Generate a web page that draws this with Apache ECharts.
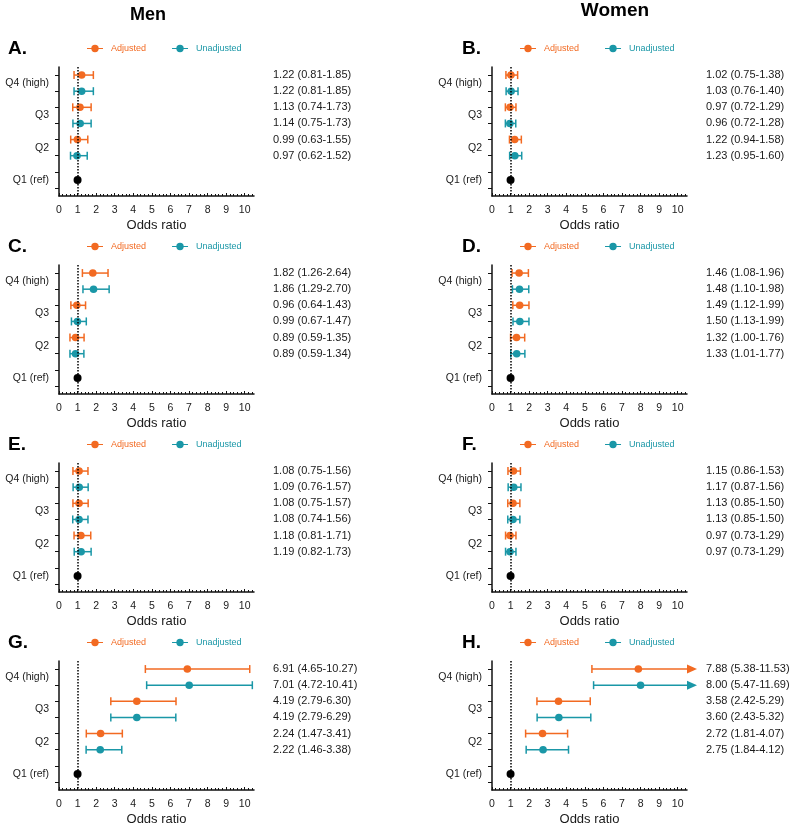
<!DOCTYPE html>
<html><head><meta charset="utf-8">
<script src="https://cdn.jsdelivr.net/npm/echarts@6/dist/echarts.min.js"></script>
<style>html,body{margin:0;padding:0;background:#fff}#c{width:793px;height:828px}</style>
</head><body><div id="c"></div>
<script>
// ---------- DATA ----------
const columnTitles = ['Men', 'Women'];
const panelLetters = ['A.', 'B.', 'C.', 'D.', 'E.', 'F.', 'G.', 'H.'];
const rowLabels = ['Q4 (high)', 'Q3', 'Q2', 'Q1 (ref)'];
const xTickValues = [0, 1, 2, 3, 4, 5, 6, 7, 8, 9, 10];
const refOR = 1;
// [odds ratio, lower CI, upper CI] for Q4, Q3, Q2
const adjustedA = [[1.22, 0.81, 1.85], [1.13, 0.74, 1.73], [0.99, 0.63, 1.55]];
const unadjustedA = [[1.22, 0.81, 1.85], [1.14, 0.75, 1.73], [0.97, 0.62, 1.52]];
const adjustedB = [[1.02, 0.75, 1.38], [0.97, 0.72, 1.29], [1.22, 0.94, 1.58]];
const unadjustedB = [[1.03, 0.76, 1.40], [0.96, 0.72, 1.28], [1.23, 0.95, 1.60]];
const adjustedC = [[1.82, 1.26, 2.64], [0.96, 0.64, 1.43], [0.89, 0.59, 1.35]];
const unadjustedC = [[1.86, 1.29, 2.70], [0.99, 0.67, 1.47], [0.89, 0.59, 1.34]];
const adjustedD = [[1.46, 1.08, 1.96], [1.49, 1.12, 1.99], [1.32, 1.00, 1.76]];
const unadjustedD = [[1.48, 1.10, 1.98], [1.50, 1.13, 1.99], [1.33, 1.01, 1.77]];
const adjustedE = [[1.08, 0.75, 1.56], [1.08, 0.75, 1.57], [1.18, 0.81, 1.71]];
const unadjustedE = [[1.09, 0.76, 1.57], [1.08, 0.74, 1.56], [1.19, 0.82, 1.73]];
const adjustedF = [[1.15, 0.86, 1.53], [1.13, 0.85, 1.50], [0.97, 0.73, 1.29]];
const unadjustedF = [[1.17, 0.87, 1.56], [1.13, 0.85, 1.50], [0.97, 0.73, 1.29]];
const adjustedG = [[6.91, 4.65, 10.27], [4.19, 2.79, 6.30], [2.24, 1.47, 3.41]];
const unadjustedG = [[7.01, 4.72, 10.41], [4.19, 2.79, 6.29], [2.22, 1.46, 3.38]];
const adjustedH = [[7.88, 5.38, 11.53], [3.58, 2.42, 5.29], [2.72, 1.81, 4.07]];
const unadjustedH = [[8.00, 5.47, 11.69], [3.60, 2.43, 5.32], [2.75, 1.84, 4.12]];

// ---------- CHART ----------
const FONT = '"Liberation Sans", Arial, Helvetica, sans-serif';
const ORANGE = '#F26A22', TEAL = '#1A97A7';
const X_MAX = 10.5;
const panels = [
  [adjustedA, unadjustedA], [adjustedB, unadjustedB],
  [adjustedC, unadjustedC], [adjustedD, unadjustedD],
  [adjustedE, unadjustedE], [adjustedF, unadjustedF],
  [adjustedG, unadjustedG], [adjustedH, unadjustedH]
];
const ICON = 'path://M0,3.4H16V4.6H0Z M8,0.3A3.7,3.7,0,1,1,8,7.7A3.7,3.7,0,1,1,8,0.3Z';

function errRender(color) {
  return function (params, api) {
    const or = api.value(0), lo = api.value(1), hi = api.value(2), s = api.value(3);
    const pO = api.coord([or, s]), pL = api.coord([lo, s]);
    const over = hi > X_MAX;
    const pH = api.coord([over ? X_MAX : hi, s]);
    const st = { stroke: color, lineWidth: 1.5 };
    const ch = [
      { type: 'line', shape: { x1: pL[0], y1: pL[1], x2: pH[0], y2: pH[1] }, style: st },
      { type: 'line', shape: { x1: pL[0], y1: pL[1] - 4, x2: pL[0], y2: pL[1] + 4 }, style: st }
    ];
    if (over) {
      ch.push({ type: 'polygon', shape: { points: [[pH[0], pH[1] - 4.5], [pH[0] + 10, pH[1]], [pH[0], pH[1] + 4.5]] }, style: { fill: color } });
    } else {
      ch.push({ type: 'line', shape: { x1: pH[0], y1: pH[1] - 4, x2: pH[0], y2: pH[1] + 4 }, style: st });
    }
    ch.push({ type: 'circle', shape: { cx: pO[0], cy: pO[1], r: 3.8 }, style: { fill: color } });
    return { type: 'group', children: ch };
  };
}
function textRender(params, api) {
  const or = api.value(0), lo = api.value(1), hi = api.value(2), s = api.value(3);
  const p = api.coord([X_MAX, s]);
  return {
    type: 'text', x: p[0] + 19, y: p[1],
    style: { text: or.toFixed(2) + ' (' + lo.toFixed(2) + '-' + hi.toFixed(2) + ')', fill: '#1a1a1a', fontSize: 11, fontFamily: FONT, align: 'left', verticalAlign: 'middle' }
  };
}

const grids = [], xAxes = [], yAxes = [], series = [], legends = [], graphics = [];
const axisColor = '#111';
panels.forEach((p, i) => {
  const col = i % 2, row = Math.floor(i / 2);
  const left = col ? 492 : 59;
  const top = 67 + 198 * row;
  grids.push({ left: left, top: top, width: 195, height: 129 });
  xAxes.push({
    gridIndex: i, type: 'value', min: 0, max: X_MAX, interval: 1,
    axisLine: { show: true, onZero: false, lineStyle: { color: axisColor, width: 1.5 } },
    axisTick: { show: true, inside: true, length: 3, customValues: xTickValues, lineStyle: { color: axisColor } },
    minorTick: { show: true, splitNumber: 5, length: 2, lineStyle: { color: axisColor } },
    axisLabel: { customValues: xTickValues, fontSize: 10.5, color: '#1a1a1a', margin: 9, fontFamily: FONT },
    splitLine: { show: false },
    name: 'Odds ratio', nameLocation: 'middle', nameGap: 23,
    nameTextStyle: { fontSize: 13, color: '#1a1a1a', fontFamily: FONT }
  });
  yAxes.push({
    gridIndex: i, type: 'value', inverse: true, min: -0.5, max: 7.5,
    axisLine: { show: true, onZero: false, lineStyle: { color: axisColor, width: 1.5 } },
    axisTick: { show: true, length: 4, customValues: [0, 1, 2, 3, 4, 5, 6, 7], lineStyle: { color: axisColor } },
    axisLabel: {
      customValues: [0.5, 2.5, 4.5, 6.5], fontSize: 10.5, color: '#1a1a1a', fontFamily: FONT, margin: 10,
      formatter: v => rowLabels[Math.round((v - 0.5) / 2)]
    },
    splitLine: { show: false }
  });
  series.push({
    type: 'custom', name: 'Adjusted', xAxisIndex: i, yAxisIndex: i, clip: false,
    itemStyle: { color: ORANGE },
    data: p[0].map((d, k) => [d[0], d[1], d[2], 2 * k]),
    renderItem: errRender(ORANGE)
  });
  series.push({
    type: 'custom', name: 'Unadjusted', xAxisIndex: i, yAxisIndex: i, clip: false,
    itemStyle: { color: TEAL },
    data: p[1].map((d, k) => [d[0], d[1], d[2], 2 * k + 1]),
    renderItem: errRender(TEAL)
  });
  series.push({
    type: 'custom', name: 'values' + i, xAxisIndex: i, yAxisIndex: i, clip: false,
    data: p[0].map((d, k) => [d[0], d[1], d[2], 2 * k]).concat(p[1].map((d, k) => [d[0], d[1], d[2], 2 * k + 1])),
    renderItem: textRender
  });
  series.push({
    type: 'scatter', name: 'ref' + i, xAxisIndex: i, yAxisIndex: i,
    data: [[refOR, 6.5]], symbolSize: 8, itemStyle: { color: '#000', opacity: 1 }, z: 3,
    markLine: {
      silent: true, symbol: ['none', 'none'], label: { show: false },
      lineStyle: { type: 'dotted', color: '#000', width: 1.5 },
      data: [{ xAxis: refOR }]
    }
  });
  legends.push({
    data: [{ name: 'Adjusted', textStyle: { color: ORANGE } }, { name: 'Unadjusted', textStyle: { color: TEAL } }],
    left: col ? 520 : 87, top: 44 + 198 * row, padding: 0, icon: ICON, itemWidth: 16, itemHeight: 8, itemGap: 26,
    textStyle: { fontSize: 9, fontFamily: FONT, padding: [0, 0, 0, 3] }, selectedMode: false
  });
  graphics.push({
    type: 'text', x: col ? 462 : 8, y: 49 + 198 * row,
    style: { text: panelLetters[i], fontSize: 19, fontWeight: 'bold', fontFamily: FONT, fill: '#000', align: 'left', verticalAlign: 'middle' }
  });
});
graphics.push({ type: 'text', x: 148, y: 15, style: { text: columnTitles[0], fontSize: 18, fontWeight: 'bold', fontFamily: FONT, fill: '#000', align: 'center', verticalAlign: 'middle' } });
graphics.push({ type: 'text', x: 615, y: 11, style: { text: columnTitles[1], fontSize: 19, fontWeight: 'bold', fontFamily: FONT, fill: '#000', align: 'center', verticalAlign: 'middle' } });

const chart = echarts.init(document.getElementById('c'), null, { renderer: 'canvas' });
chart.setOption({
  animation: false,
  backgroundColor: '#fff',
  textStyle: { fontFamily: FONT },
  grid: grids, xAxis: xAxes, yAxis: yAxes, legend: legends, series: series, graphic: graphics
});
</script></body></html>
